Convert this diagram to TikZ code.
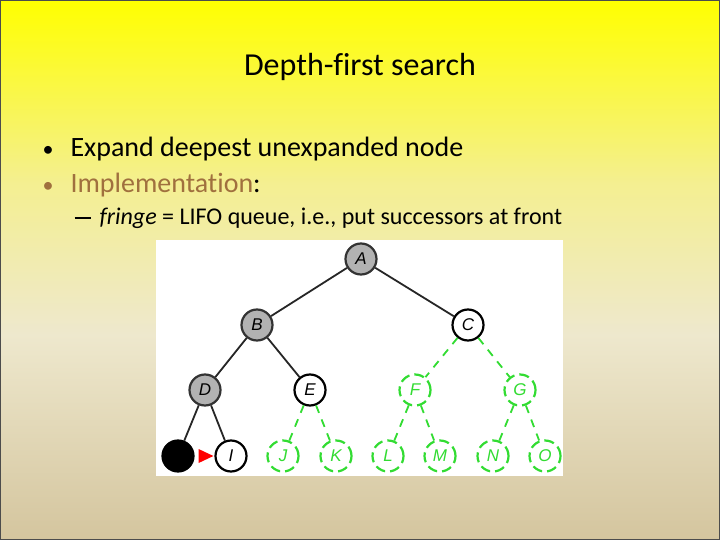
\documentclass[tikz,border=0pt]{standalone}
\usepackage{fontspec}
\setmainfont{Carlito}[Ligatures=NoCommon]
\setsansfont{Liberation Sans}
\usepackage{tikz}
\usetikzlibrary{positioning,arrows.meta,shapes.geometric,calc}

\definecolor{topyellow}{RGB}{255,255,0}
\definecolor{paleyellow}{RGB}{244,239,145}
\definecolor{creambg}{RGB}{238,232,205}
\definecolor{sandbg}{RGB}{212,197,158}
\definecolor{implbrown}{RGB}{160,112,62}
\definecolor{opengreen}{RGB}{50,220,50}
\pgfdeclareverticalshading{slidebg}{100bp}{color(0bp)=(sandbg); color(25bp)=(sandbg); color(44bp)=(creambg); color(58bp)=(paleyellow); color(75bp)=(topyellow); color(100bp)=(topyellow)}

\begin{document}
\begin{tikzpicture}[
  x=1pt, y=-1pt, >=Stealth,
  ttl/.style={font=\fontsize{32}{34}\selectfont},
  itm/.style={anchor=base west, font=\fontsize{28}{30}\selectfont},
  subitm/.style={anchor=base west, font=\fontsize{24}{26}\selectfont},
  expl/.style={circle, draw=black!80, line width=2.2pt, fill=gray!60, minimum size=31pt, inner sep=0pt,
    font=\sffamily\itshape\fontsize{17}{17}\selectfont},
  fringe/.style={expl, draw=black, fill=white},
  unseen/.style={expl, fill=white, draw=opengreen, text=opengreen, dash pattern=on 10pt off 5pt},
  tedge/.style={line width=1.8pt, draw=black!85},
  gedge/.style={line width=1.8pt, draw=opengreen, dash pattern=on 8pt off 7pt},
]
% slide background
\shade[shading=slidebg] (0,0) rectangle (720,540);
\draw[black!70, line width=1pt] (0.5,0.5) rectangle (719.5,539.5);
\useasboundingbox (0,0) rectangle (720,540);

% title and bullets
\node[ttl] (title) at (360,67) {Depth-first search};
\node[font=\fontsize{22}{22}\selectfont, anchor=base] at (48,157) {•};
\node[itm] (exp) at (67,157) {Expand deepest unexpanded node};
\node[font=\fontsize{22}{22}\selectfont, anchor=base, text=implbrown] at (48,193) {•};
\node[itm] (impl) at (67,193) {\textcolor{implbrown}{Implementation}:};
\node[subitm] (fr) at (71,225) {\rule[0.26em]{16pt}{1.6pt}\hspace{9pt}\textit{fringe} = LIFO queue, i.e., put successors at front};

% tree picture
\fill[white] (156,240) rectangle (563,476);

\node[expl] (A) at (361,259) {A};
\node[expl] (B) at (257,325) {B};
\node[fringe] (C) at (468,325) {C};
\node[expl] (D) at (205,390) {D};
\node[fringe] (E) at (310,390) {E};
\node[unseen] (F) at (415,390) {F};
\node[unseen] (G) at (520,390) {G};
\node[expl, fill=black, draw=black] (H) at (178,456) {};
\node[fringe] (I) at (231,456) {I};
\node[unseen] (J) at (283,456) {J};
\node[unseen] (K) at (336,456) {K};
\node[unseen] (L) at (388,456) {L};
\node[unseen] (M) at (440,456) {M};
\node[unseen] (N) at (493,456) {N};
\node[unseen] (O) at (545,456) {O};

\draw[tedge] (A) -- (B);
\draw[tedge] (A) -- (C);
\draw[tedge] (B) -- (D);
\draw[tedge] (B) -- (E);
\draw[tedge] (D) -- (H);
\draw[tedge] (D) -- (I);
\foreach \p/\c in {C/F, C/G, E/J, E/K, F/L, F/M, G/N, G/O}
  \draw[gedge] (\p) -- (\c);

% current node marker
\fill[red] (H.east) ++(4,-7) coordinate (tip1) -- ++(0,14) -- ($(I.west)+(-1,0)$) -- cycle;
\end{tikzpicture}
\end{document}
